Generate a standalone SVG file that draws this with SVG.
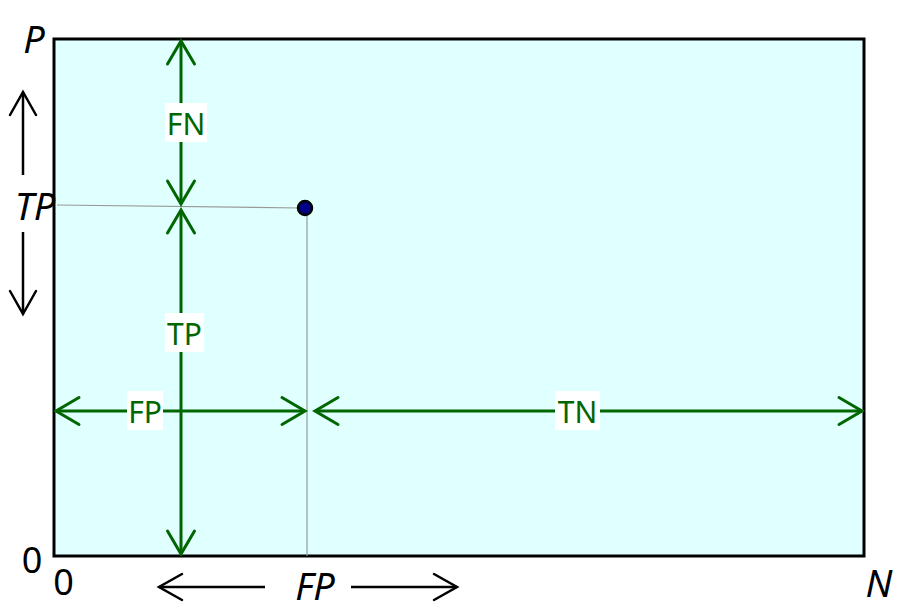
<svg xmlns="http://www.w3.org/2000/svg" width="921" height="611" viewBox="0 0 921 611">
<style>
.g{stroke:#006600;stroke-width:3;fill:none}
.k{stroke:#000;stroke-width:2.5;fill:none}
.gray{stroke:#999;stroke-width:1.2;fill:none}
.lbl{font-family:"Noto Sans","Open Sans",sans-serif;font-size:30px;fill:#006600;text-anchor:middle;dominant-baseline:central}
.ax{font-family:"Noto Sans","Open Sans",sans-serif;font-size:38px;font-style:italic;fill:#000;text-anchor:middle}
.num{font-family:"Noto Sans","Open Sans",sans-serif;font-size:36px;fill:#000;text-anchor:middle}
.box{fill:#fff}
</style>
<defs>
<marker id="ga" markerUnits="userSpaceOnUse" markerWidth="40" markerHeight="40" viewBox="-30 -20 40 40" refX="0" refY="0" orient="auto-start-reverse" overflow="visible">
<path d="M-23,-13.5 L0,0 L-23,13.5" fill="none" stroke="#006600" stroke-width="3" stroke-linecap="round" stroke-linejoin="miter"/>
</marker>
<marker id="ka" markerUnits="userSpaceOnUse" markerWidth="40" markerHeight="40" viewBox="-30 -20 40 40" refX="0" refY="0" orient="auto-start-reverse" overflow="visible">
<path d="M-23,-13 L0,0 L-23,13" fill="none" stroke="#000" stroke-width="2.5" stroke-linecap="round"/>
</marker>
</defs>
<rect width="921" height="611" fill="#fff"/>
<g id="plot">
<rect x="54" y="39" width="810" height="517" fill="#e0ffff" stroke="#000" stroke-width="3"/>
</g>
<g id="guides">
<line class="gray" x1="57" y1="205" x2="300" y2="208"/>
<line class="gray" x1="307" y1="212" x2="307" y2="556"/>
</g>
<g id="connectors">
<line class="g" x1="181" y1="41" x2="181" y2="204" marker-start="url(#ga)" marker-end="url(#ga)"/>
<line class="g" x1="181" y1="210" x2="181" y2="554" marker-start="url(#ga)" marker-end="url(#ga)"/>
<line class="g" x1="56" y1="411" x2="305" y2="411" marker-start="url(#ga)" marker-end="url(#ga)"/>
<line class="g" x1="315" y1="411" x2="862" y2="411" marker-start="url(#ga)" marker-end="url(#ga)"/>
<line class="k" x1="23" y1="175" x2="23" y2="92" marker-end="url(#ka)"/>
<line class="k" x1="23" y1="232" x2="23" y2="314" marker-end="url(#ka)"/>
<line class="k" x1="265" y1="587" x2="159" y2="587" marker-end="url(#ka)"/>
<line class="k" x1="351" y1="587" x2="457" y2="587" marker-end="url(#ka)"/>
</g>
<g id="point">
<circle cx="305" cy="208" r="7" fill="#00008b" stroke="#000" stroke-width="2.5"/>
</g>
<g id="label-FN">
<rect class="box" x="165" y="103" width="42" height="39"/>
<text class="lbl" x="186" y="123">FN</text>
</g>
<g id="label-TP">
<rect class="box" x="165" y="313" width="39" height="39"/>
<text class="lbl" x="184.5" y="333">TP</text>
</g>
<g id="label-FP">
<rect class="box" x="127" y="391" width="36" height="39"/>
<text class="lbl" x="145" y="411">FP</text>
</g>
<g id="label-TN">
<rect class="box" x="555" y="391" width="45" height="39"/>
<text class="lbl" x="577.5" y="411">TN</text>
</g>
<g id="axis-labels">
<text class="ax" x="34" y="53">P</text>
<text class="ax" x="35" y="220">TP</text>
<text class="num" x="32" y="573">0</text>
<text class="num" x="63.5" y="595">0</text>
<text class="ax" x="315" y="600">FP</text>
<text class="ax" x="879" y="597">N</text>
</g>
</svg>
